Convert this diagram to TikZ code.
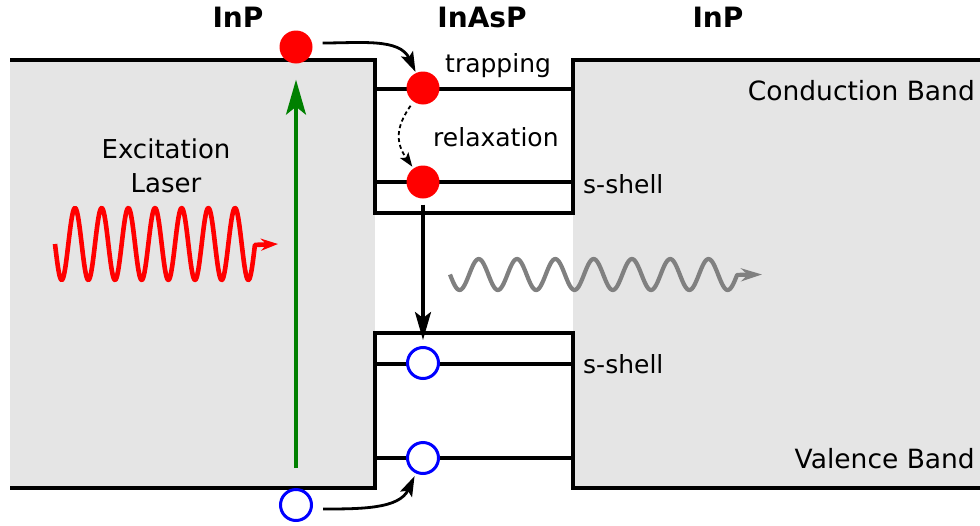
\documentclass[tikz,border=0pt]{standalone}
\usepackage{fontspec}
\setmainfont{DejaVu Sans}
\usetikzlibrary{arrows.meta}
\definecolor{bandgray}{RGB}{229,229,229}
\definecolor{wavegray}{RGB}{128,128,128}
\definecolor{darkgreen}{RGB}{0,128,0}
\begin{document}
\begin{tikzpicture}[x=1pt,y=1pt,
  band/.style={line width=3.4pt, line join=miter},
  level/.style={line width=3.1pt},
  electron/.style={circle, fill=red, minimum size=33pt, inner sep=0pt},
  hole/.style={circle, draw=blue, fill=white, line width=3pt, minimum size=31pt, inner sep=0pt},
  lbl/.style={font=\fontsize{25}{34}\selectfont, inner sep=0pt},
  biglbl/.style={font=\fontsize{26.5}{34}\selectfont, inner sep=0pt},
  title/.style={font=\fontsize{28}{32}\selectfont\bfseries, inner sep=0pt},
  pump/.style={draw=darkgreen, line width=3.3pt, -{Stealth[length=35pt,width=20pt,inset=8pt]}},
  recomb/.style={draw=black, line width=3.3pt, -{Stealth[length=28pt,width=16pt,inset=6pt]}},
  carrier/.style={draw=black, line width=2.8pt, -{Stealth[length=20pt,width=13pt,inset=4pt]}},
  relaxarrow/.style={draw=black, line width=1.8pt, dash pattern=on 4pt off 3pt, -{Stealth[length=14pt,width=10pt,inset=3pt]}},
  laserwave/.style={draw=red, line width=4.6pt, line join=round, -{Stealth[length=17pt,width=12pt]}},
  emitwave/.style={draw=wavegray, line width=4.2pt, line join=round, -{Stealth[length=21pt,width=13pt]}},
]
\useasboundingbox (0,0) rectangle (980,-525);
% semiconductor regions
\fill[bandgray] (10,-60) rectangle (375,-488);
\fill[bandgray] (573,-60) rectangle (980,-488);
% confined levels
\draw[level] (375,-89) -- (573,-89);
\draw[level] (375,-182) -- (573,-182);
\draw[level] (375,-364) -- (573,-364);
\draw[level] (375,-458) -- (573,-458);
% band edges
\draw[band] (10,-60) -- (375,-60) -- (375,-213) -- (573,-213) -- (573,-60) -- (980,-60);
\draw[band] (10,-488) -- (375,-488) -- (375,-333) -- (573,-333) -- (573,-488) -- (980,-488);
% waves
\draw[laserwave] plot[domain=0:7.5, samples=300, smooth] ({55+26.67*\x},{-244-36*sin(360*\x)}) -- (278,-244);
\draw[emitwave] plot[domain=0:7.5, samples=300, smooth] ({450+38.3*\x},{-274.5-15.5*sin(360*\x)}) -- (762,-274.5);
% carriers
\node[electron] (e1) at (296,-47) {};
\node[electron] (e2) at (423,-88) {};
\node[electron] (e3) at (423,-182) {};
\node[hole] (h1) at (423,-363) {};
\node[hole] (h2) at (423,-458) {};
\node[hole] (h0) at (296,-505) {};
% transitions
\draw[pump, shorten <=20pt, shorten >=16pt] (h0) -- (e1);
\draw[recomb, shorten <=6pt, shorten >=6pt] (e3) -- (h1);
\draw[carrier, shorten >=1pt] ([shift={(10pt,4pt)}]e1.east) to[out=0,in=115] (e2);
\draw[relaxarrow, shorten <=5pt, shorten >=2pt] (e2) to[out=-125,in=125,looseness=1.2] (e3);
\draw[carrier, shorten >=3pt] ([shift={(10pt,-4pt)}]h0.east) to[out=0,in=-115] (h2);
% labels
\node[title, anchor=base] (tInPa) at (238,-27) {InP};
\node[title, anchor=base] (tInAsP) at (482,-27) {InAsP};
\node[title, anchor=base] (tInPb) at (718,-27) {InP};
\node[biglbl, anchor=base east] (cb) at (975,-100) {Conduction Band};
\node[biglbl, anchor=base east] (vb) at (975,-468) {Valence Band};
\node[lbl, anchor=base west] (ss1) at (583,-193) {s-shell};
\node[lbl, anchor=base west] (ss2) at (583,-373) {s-shell};
\node[lbl, anchor=base west] (trap) at (445,-72) {trapping};
\node[lbl, anchor=base west] (relax) at (433,-146) {relaxation};
\node[font=\fontsize{26}{34}\selectfont, inner sep=0pt, align=center, anchor=north] (exc) at (166,-139) {Excitation\\Laser};
\end{tikzpicture}
\end{document}
